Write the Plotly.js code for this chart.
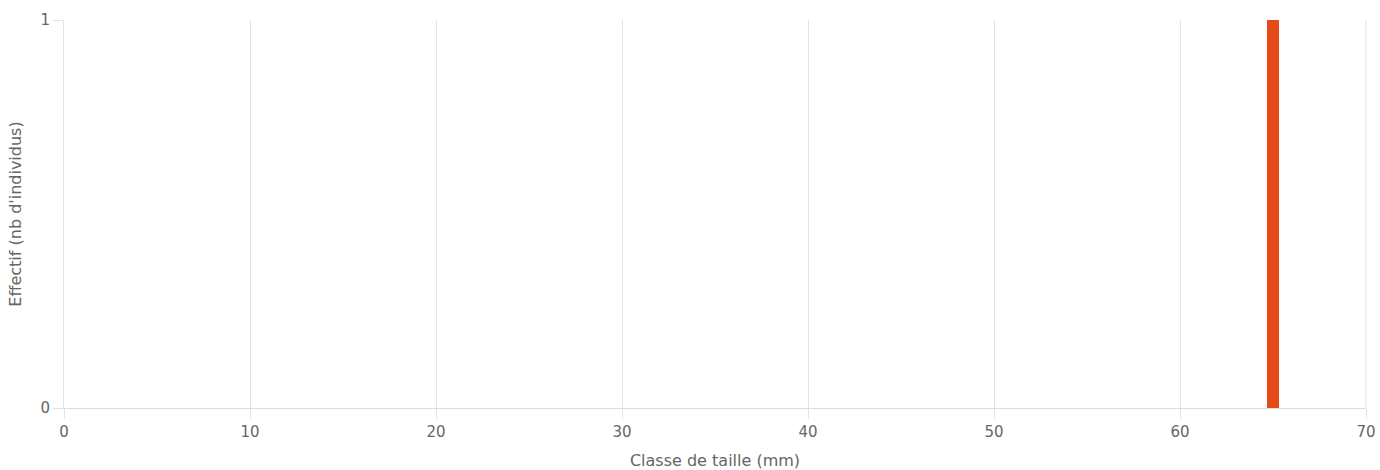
<!DOCTYPE html>
<html>
<head>
<meta charset="utf-8">
<script src="https://cdn.plot.ly/plotly-3.0.1.min.js"></script>
<style>html,body{margin:0;padding:0;background:#fff;}#chart{width:1380px;height:470px;}</style>
</head>
<body>
<div id="chart"></div>
<script>
const sizeClasses = [65];
const counts = [1];
const xTitle = "Classe de taille (mm)";
const yTitle = "Effectif (nb d'individus)";
const barColor = "#E64A19";

const trace = {
  type: "bar",
  x: sizeClasses,
  y: counts,
  width: 0.6,
  marker: {color: barColor},
  hoverinfo: "x+y"
};

const layout = {
  width: 1380, height: 470,
  margin: {l: 64, r: 14, t: 20, b: 62},
  paper_bgcolor: "#fff", plot_bgcolor: "#fff",
  font: {family: "DejaVu Sans, Open Sans, sans-serif", size: 15, color: "#666"},
  showlegend: false,
  bargap: 0,
  xaxis: {
    range: [0, 70], dtick: 10, tick0: 0,
    showgrid: true, gridcolor: "#e3e3e3", gridwidth: 1,
    zeroline: false,
    showline: true, linecolor: "#dcdcdc", linewidth: 1,
    ticks: "outside", ticklen: 10, tickcolor: "#e3e3e3",
    tickfont: {size: 15, color: "#666"},
    title: {text: xTitle, font: {size: 16, color: "#666"}, standoff: 14}
  },
  yaxis: {
    range: [0, 1], dtick: 1, tick0: 0,
    showgrid: true, gridcolor: "#e3e3e3", gridwidth: 1,
    zeroline: false,
    showline: true, linecolor: "#e3e3e3", linewidth: 1,
    ticks: "outside", ticklen: 10, tickcolor: "#e3e3e3",
    tickfont: {size: 15, color: "#666"},
    title: {text: yTitle, font: {size: 16, color: "#666"}, standoff: 14}
  },
  shapes: [{type: "line", xref: "paper", yref: "paper", x0: 1, x1: 1, y0: 0, y1: 1, line: {color: "#e3e3e3", width: 1}}]
};

Plotly.newPlot("chart", [trace], layout, {displayModeBar: false, staticPlot: true});
</script>
</body>
</html>
